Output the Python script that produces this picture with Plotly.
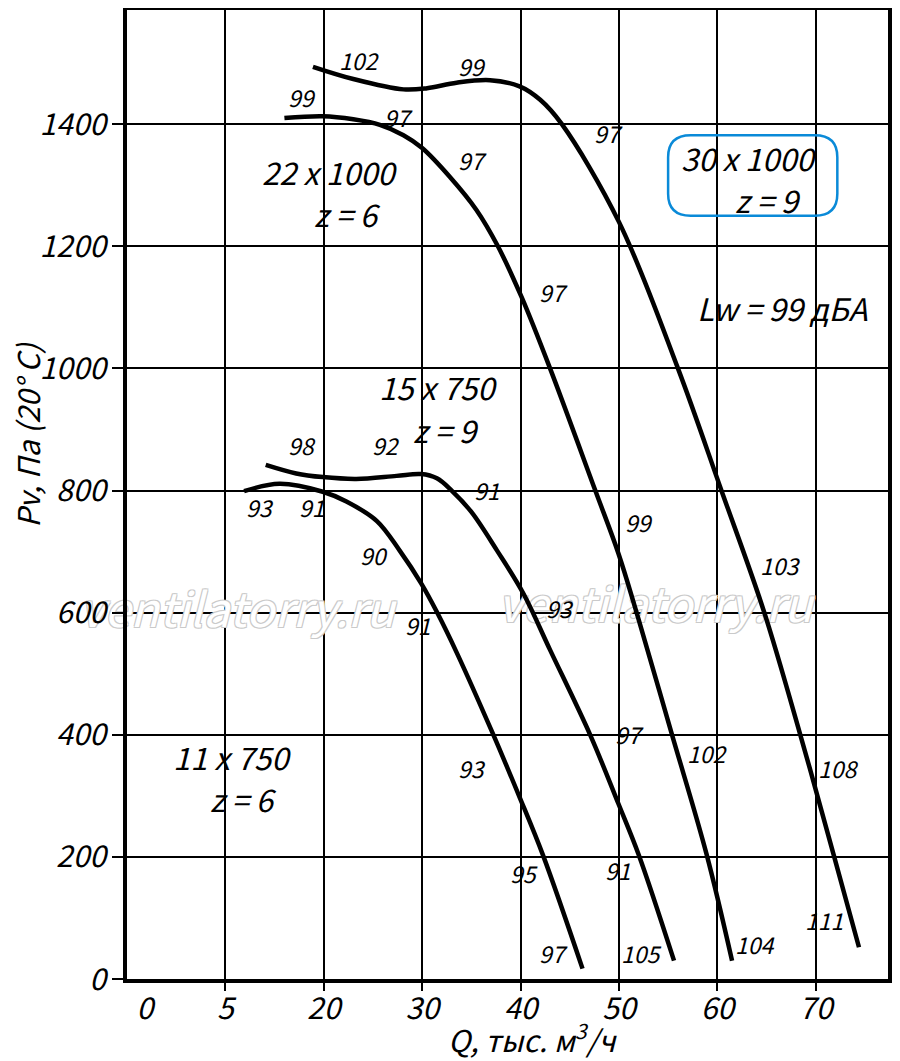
"""Fan performance chart: Pv vs Q for four impeller variants"""
from plotly.graph_objects import Scatter, Figure

# curves, Q in thousand m3/h, Pv in Pa
q_11x750 = [11.9, 15.5, 19.9, 22.3, 25.4, 27.7, 29.9, 31.5, 33.5, 37.1, 39.9, 42.3, 46.3]
p_11x750 = [799, 811, 798, 782, 750, 702, 648, 601, 535, 405, 298, 202, 17]

q_15x750 = [14.1, 17.2, 19.9, 23.3, 27.4, 29.9, 31.5, 33.0, 35.0, 37.6, 40.3, 43.0, 47.1,
            49.95, 52.0, 55.6]
p_15x750 = [842, 828, 822, 819, 824, 827, 820, 800, 765, 702, 631, 539, 399,
            287, 204, 30]

q_22x1000 = [16.0, 19.9, 23.0, 25.7, 28.1, 30.0, 32.8, 35.5, 37.7, 40.1, 43.0, 47.6, 49.95,
             51.8, 55.4, 58.9, 61.5]
p_22x1000 = [1410, 1413, 1408, 1399, 1382, 1361, 1314, 1260, 1200, 1117, 1000, 800, 697,
             600, 400, 205, 30]

q_30x1000 = [18.9, 23.0, 28.1, 30.5, 33.5, 36.9, 39.9, 42.0, 44.2, 50.0, 56.0,
             60.4, 64.7, 68.4, 71.8, 74.4]
p_30x1000 = [1494, 1474, 1457, 1459, 1468, 1472, 1462, 1440, 1400, 1240, 1000,
             801, 604, 402, 205, 52]

# axis ticks
x_tickvals = [1.8, 10, 20, 30, 40, 50, 60, 70]
x_ticktext = ["0", "5", "20", "30", "40", "50", "60", "70"]
y_tickvals = [0, 200, 400, 600, 800, 1000, 1200, 1400]
x_grid = [10, 20, 30, 40, 50, 60, 70]

# noise level labels along the curves (dBA)
lw_text = ["102", "99", "99", "97", "97", "97", "97", "98", "92", "91", "93", "91", "90",
           "91", "93", "99", "103", "97", "102", "108", "93", "95", "91", "111", "104",
           "97", "105"]
lw_q = [23.6, 35.1, 17.8, 27.6, 48.9, 35.1, 43.3, 17.8, 26.3, 36.6, 13.5, 18.8, 25.2,
        29.6, 44.0, 52.1, 66.4, 51.1, 59.0, 72.3, 35.1, 40.4, 49.9, 70.8, 63.8, 43.3, 52.3]
lw_p = [1505, 1495, 1445, 1412, 1386, 1341, 1125, 874, 874, 801, 773, 773, 694,
        580, 607, 748, 678, 401, 370, 345, 345, 173, 178, 96, 58, 43, 43]

# model names
model_text = ["22 x 1000", "z = 6", "30 x 1000", "z = 9", "15 x 750", "z = 9",
              "11 x 750", "z = 6", "Lw = 99 дБА"]
model_q = [20.6, 22.4, 63.2, 65.2, 31.7, 32.5, 10.7, 11.8, 66.6]
model_p = [1323, 1254, 1346, 1277, 971, 900, 365, 296, 1099]

wm_text = ["ventilatorry.ru", "ventilatorry.ru"]
wm_q = [11.2, 53.7]
wm_p = [596, 604]

FONT = "Noto Sans CJK SC"


def rounded_box(x0, x1, y0, y1, rx, ry):
    """SVG path of a rounded rectangle in data units"""
    return (f"M {x0 + rx},{y0} L {x1 - rx},{y0} Q {x1},{y0} {x1},{y0 + ry} "
            f"L {x1},{y1 - ry} Q {x1},{y1} {x1 - rx},{y1} L {x0 + rx},{y1} "
            f"Q {x0},{y1} {x0},{y1 - ry} L {x0},{y0 + ry} Q {x0},{y0} {x0 + rx},{y0} Z")


def main():
    fig = Figure()

    outline = ", ".join(f"{dx}px {dy}px 0 #cacaca" for dx in (-1, 1) for dy in (-1, 1))
    fig.add_trace(Scatter(x=wm_q, y=wm_p, mode="text", text=wm_text, cliponaxis=False,
                          textfont=dict(family=FONT, size=47, color="white",
                                        style="italic", shadow=outline),
                          hoverinfo="skip"))

    for q, p in [(q_11x750, p_11x750), (q_15x750, p_15x750),
                 (q_22x1000, p_22x1000), (q_30x1000, p_30x1000)]:
        fig.add_trace(Scatter(x=q, y=p, mode="lines",
                              line=dict(color="black", width=4.5, shape="spline", smoothing=1.0)))

    for t, q, p in zip(lw_text, lw_q, lw_p):
        fig.add_annotation(x=q, y=p, text=t, showarrow=False,
                           font=dict(family=FONT, size=23, color="black", style="italic"))
    for t, q, p in zip(model_text, model_q, model_p):
        fig.add_annotation(x=q, y=p, text=t, showarrow=False,
                           font=dict(family=FONT, size=31, color="black", style="italic"))

    fig.add_shape(type="path", path=rounded_box(55.0, 72.2, 1250, 1382, 2.3, 36),
                  line=dict(color="#0a8ad8", width=2.5))

    fig.add_annotation(xref="paper", yref="paper", x=0.5335, y=-0.061,
                       xanchor="center", yanchor="middle",
                       text="Q, тыс. м<sup>3</sup>/ч", showarrow=False,
                       font=dict(family=FONT, size=30, color="black", style="italic"))
    fig.add_annotation(xref="paper", yref="paper", x=-0.131, y=0.562, textangle=-90,
                       xanchor="center", yanchor="middle",
                       text="Pv, Па (20° C)", showarrow=False,
                       font=dict(family=FONT, size=30, color="black", style="italic"))

    # the page body has an 8px margin, so the figure is 8px smaller each way
    tick_font = dict(family=FONT, size=30, color="black", style="italic")
    fig.update_layout(
        width=892, height=1053,
        margin=dict(l=119, r=12, t=2, b=82, autoexpand=False),
        plot_bgcolor="white", paper_bgcolor="white",
        showlegend=False,
        xaxis=dict(range=[0, 77.35], tickmode="array", tickvals=x_tickvals,
                   ticktext=x_ticktext, tickfont=tick_font, showgrid=False,
                   showline=True, linecolor="black", linewidth=4, mirror=True,
                   ticks="", zeroline=False, automargin=False,
                   minor=dict(tickmode="array", tickvals=x_grid, showgrid=True,
                              gridcolor="black", gridwidth=2, ticks="outside",
                              ticklen=8, tickwidth=2, tickcolor="black")),
        yaxis=dict(range=[0, 1587], tickmode="array", tickvals=y_tickvals,
                   tickfont=tick_font, showgrid=True, gridcolor="black", gridwidth=2,
                   showline=True, linecolor="black", linewidth=4, mirror=True,
                   ticks="outside", ticklen=11, tickwidth=2, tickcolor="black",
                   zeroline=False, automargin=False),
    )
    fig.write_html("out.html")


if __name__ == "__main__":
    main()
